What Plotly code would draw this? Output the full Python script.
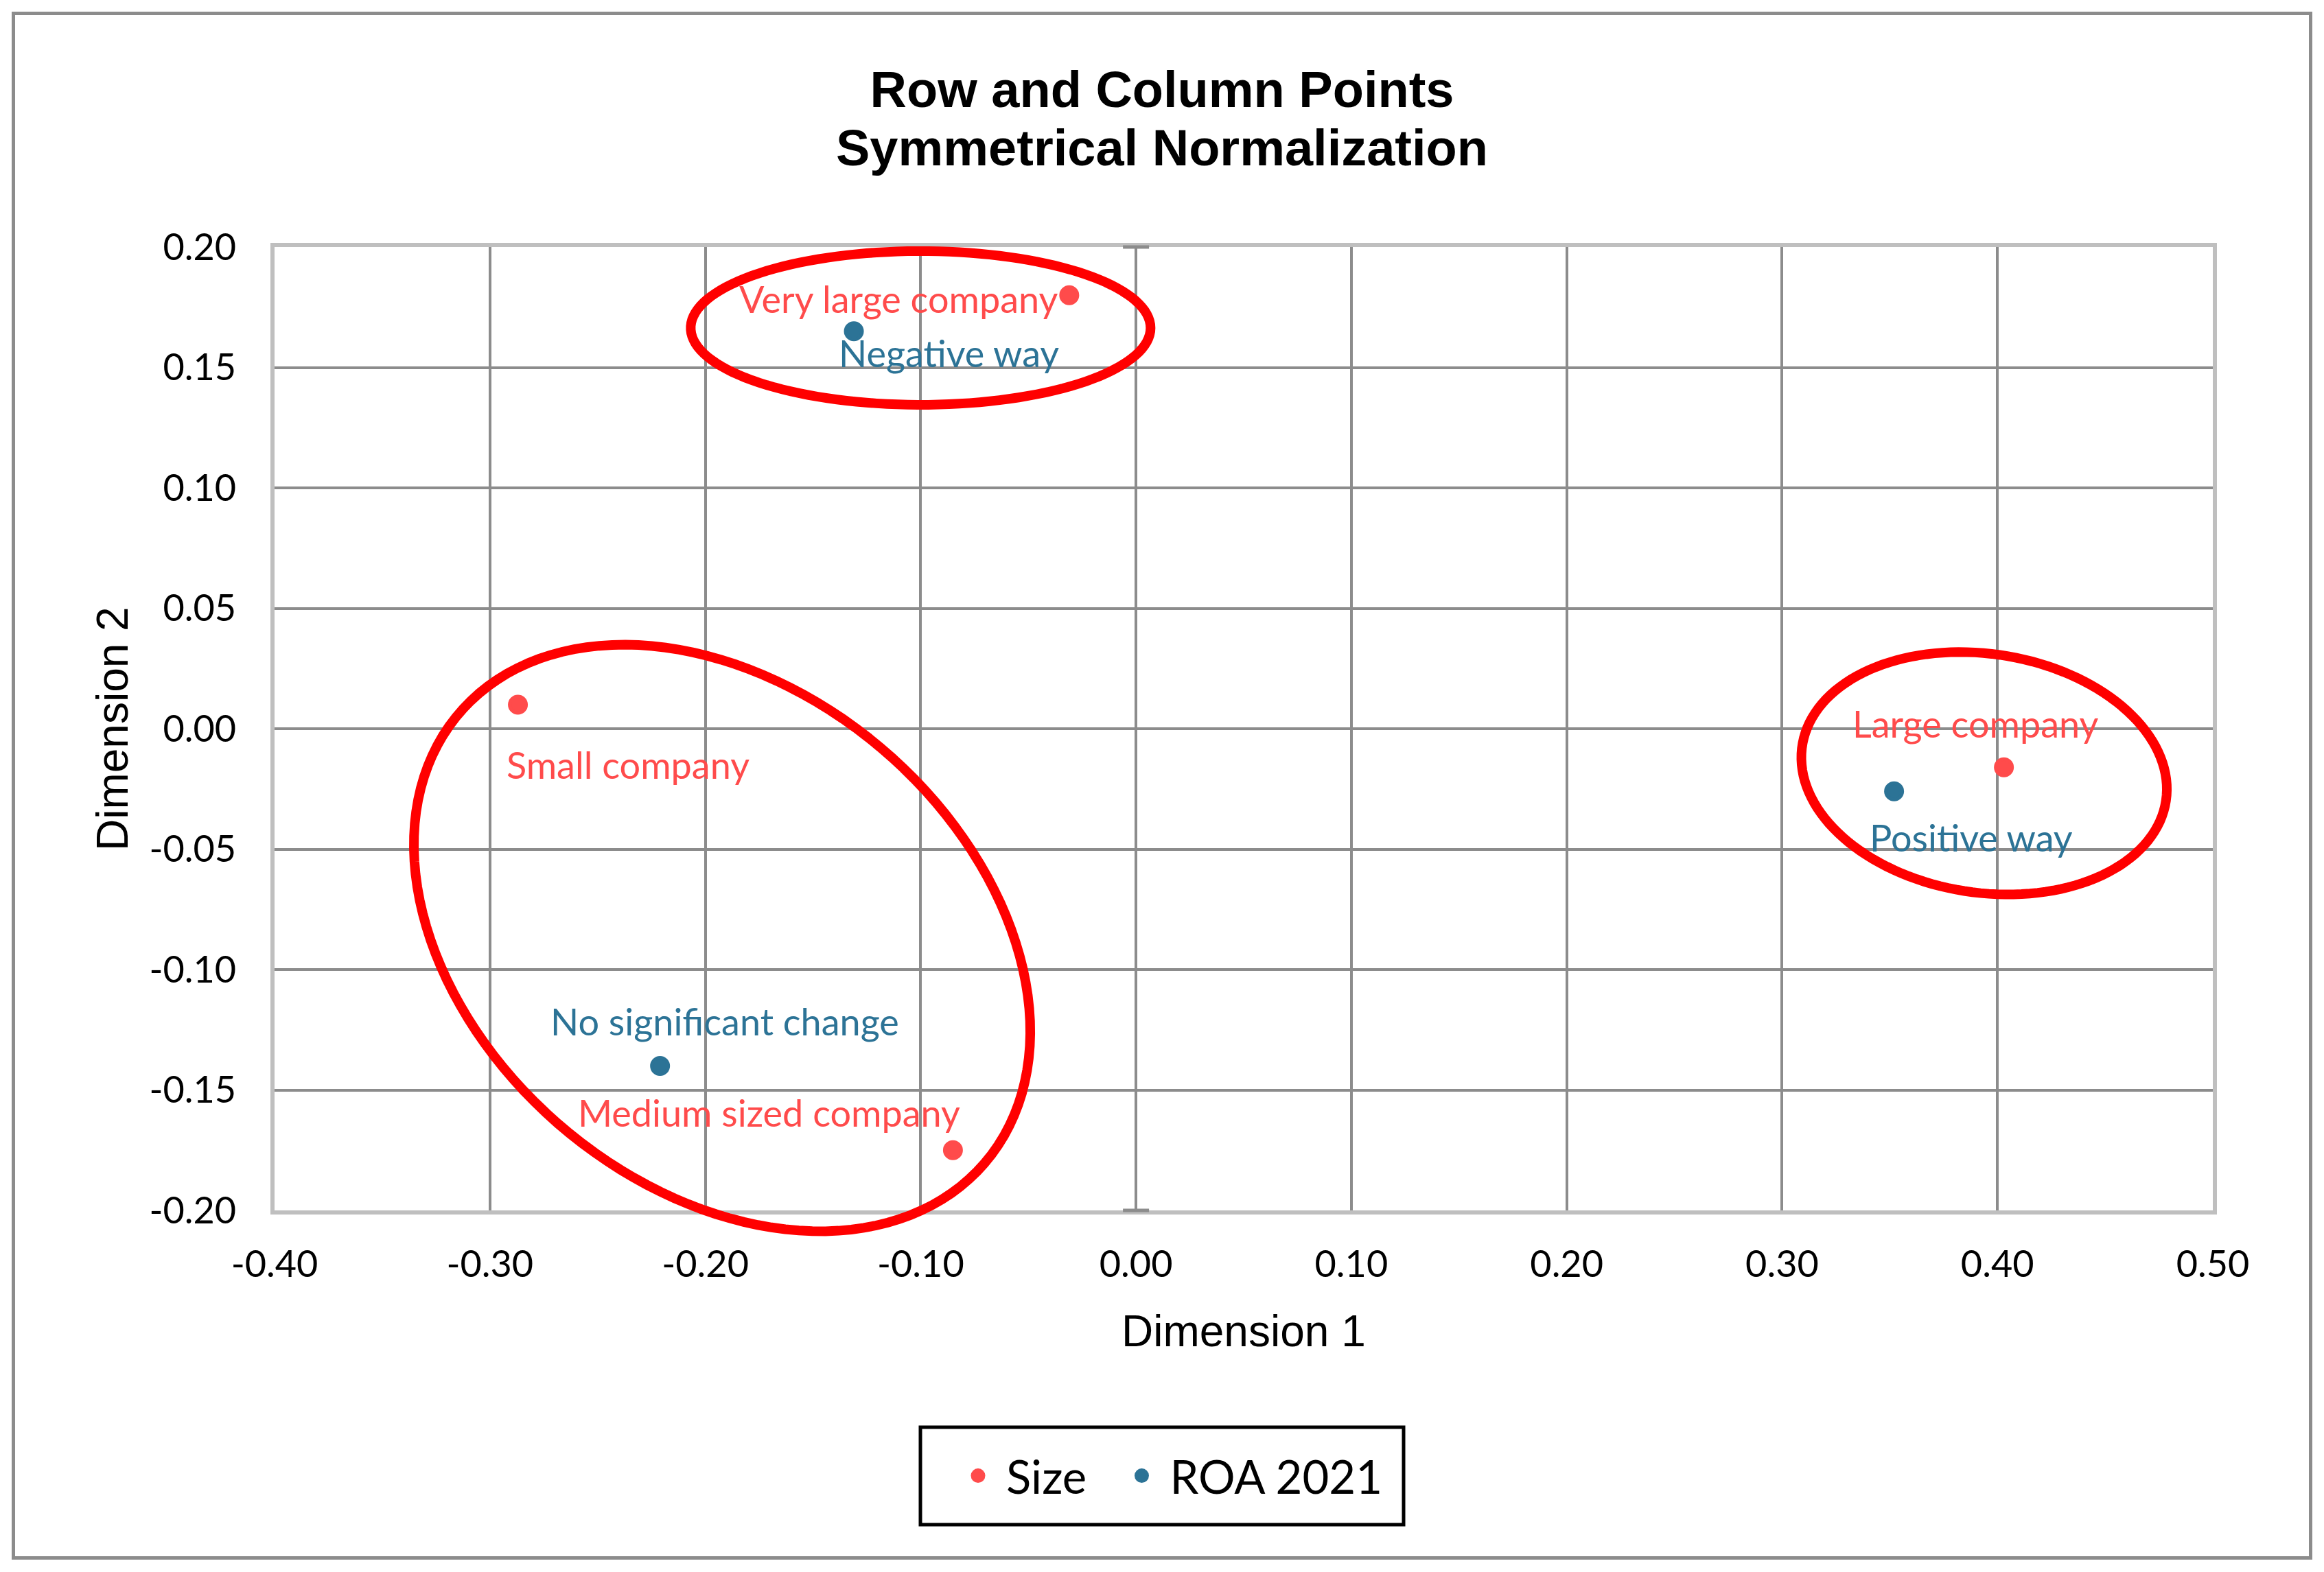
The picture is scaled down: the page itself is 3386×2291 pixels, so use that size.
"""Correspondence analysis biplot: row and column points (symmetrical normalization)."""

import numpy as np
import plotly.graph_objects as go

# --- data ---
size_labels = ["Very large company", "Small company", "Large company", "Medium sized company"]
size_dim1 = [-0.031, -0.287, 0.403, -0.085]
size_dim2 = [0.180, 0.010, -0.016, -0.175]

roa_labels = ["Negative way", "Positive way", "No significant change"]
roa_dim1 = [-0.131, 0.352, -0.221]
roa_dim2 = [0.165, -0.026, -0.140]

x_ticks = [-0.40, -0.30, -0.20, -0.10, 0.00, 0.10, 0.20, 0.30, 0.40, 0.50]
x_tick_text = ["-0.40", "-0.30", "-0.20", "-0.10", "0.00", "0.10", "0.20", "0.30", "0.40", "0.50"]
y_ticks = [-0.20, -0.15, -0.10, -0.05, 0.00, 0.05, 0.10, 0.15, 0.20]
y_tick_text = ["-0.20", "-0.15", "-0.10", "-0.05", "0.00", "0.05", "0.10", "0.15", "0.20"]

# group ellipses drawn by hand on the original: centre (data), semi-axes (px), tilt (deg)
groups = [
    {"cx": -0.100, "cy": 0.1664, "a": 335, "b": 112, "angle": 0.0},
    {"cx": 0.3938, "cy": -0.0185, "a": 268, "b": 174, "angle": 8.6},
    {"cx": -0.1922, "cy": -0.0869, "a": 504, "b": 361, "angle": 40.6},
]

RED = "#FF4B4B"
BLUE = "#2C7396"
GRID = "#8C8C8C"
LABEL_FONT = "Lato, Calibri, sans-serif"
ARIAL = "Arial, Liberation Sans, sans-serif"

# the page body adds an 8px margin, so the figure is drawn 8px in from the corner
BODY = 8
W, H = 3386 - BODY, 2291 - BODY
PLOT_LEFT, PLOT_RIGHT, PLOT_TOP, PLOT_BOTTOM = 400, 3224, 360, 1764  # page pixels
CHART_CENTER = 1693
MARGIN = dict(l=PLOT_LEFT - BODY, r=W - (PLOT_RIGHT - BODY),
              t=PLOT_TOP - BODY, b=H - (PLOT_BOTTOM - BODY))
X_RANGE = [-0.40, 0.50]
Y_RANGE = [-0.20, 0.20]

plot_w = PLOT_RIGHT - PLOT_LEFT
plot_h = PLOT_BOTTOM - PLOT_TOP


def px_x(v):
    """Page x pixel -> paper fraction."""
    return (v - PLOT_LEFT) / plot_w


def px_y(v):
    """Page y pixel -> paper fraction."""
    return (PLOT_BOTTOM - v) / plot_h


def ellipse_path(cx, cy, a, b, angle, n=140):
    """SVG path in paper coords (so it is not clipped) for an ellipse sized in pixels."""
    t = np.linspace(0, 2 * np.pi, n)
    th = np.radians(angle)
    dx = a * np.cos(t) * np.cos(th) - b * np.sin(t) * np.sin(th)
    dy = a * np.cos(t) * np.sin(th) + b * np.sin(t) * np.cos(th)  # screen y, down positive
    px0 = (cx - X_RANGE[0]) / (X_RANGE[1] - X_RANGE[0])
    py0 = (cy - Y_RANGE[0]) / (Y_RANGE[1] - Y_RANGE[0])
    xs = px0 + dx / plot_w
    ys = py0 - dy / plot_h
    pts = [f"{x:.5f},{y:.5f}" for x, y in zip(xs, ys)]
    return "M " + " L ".join(pts) + " Z"


# label placement (pixel offsets from the point) mimicking the Excel data labels
size_label_style = [
    dict(xanchor="right", xshift=-14, yshift=-5),
    dict(xanchor="left", xshift=-19, yshift=-88),
    dict(xanchor="center", xshift=-42, yshift=64),
    dict(xanchor="right", xshift=13, yshift=55),
]
roa_label_style = [
    dict(xanchor="left", xshift=-24, yshift=-32),
    dict(xanchor="left", xshift=-38, yshift=-67),
    dict(xanchor="left", xshift=-162, yshift=65),
]

fig = go.Figure()

fig.add_trace(go.Scatter(
    x=size_dim1, y=size_dim2, mode="markers", name="Size\u00a0\u00a0",
    marker=dict(color=RED, size=24, line=dict(color=RED, width=5)),
    text=size_labels, hoverinfo="text+x+y",
))
fig.add_trace(go.Scatter(
    x=roa_dim1, y=roa_dim2, mode="markers", name="ROA 2021",
    marker=dict(color=BLUE, size=24, line=dict(color=BLUE, width=5)),
    text=roa_labels, hoverinfo="text+x+y",
))

annotations = []
for labels, xs, ys, styles, color in [
    (size_labels, size_dim1, size_dim2, size_label_style, RED),
    (roa_labels, roa_dim1, roa_dim2, roa_label_style, BLUE),
]:
    for label, x, y, st in zip(labels, xs, ys, styles):
        annotations.append(dict(
            x=x, y=y, xref="x", yref="y", text=label, showarrow=False,
            yanchor="middle", font=dict(family=LABEL_FONT, size=54, color=color), **st,
        ))

# second title line (kept separate for tighter line spacing)
annotations.append(dict(
    x=px_x(CHART_CENTER), y=px_y(216), xref="paper", yref="paper",
    text="<b>Symmetrical Normalization</b>",
    showarrow=False, xanchor="center", yanchor="middle",
    font=dict(family=ARIAL, size=74, color="black"),
))

# axis titles
annotations.append(dict(
    x=0.5, y=px_y(1940), xref="paper", yref="paper",
    text="Dimension 1", showarrow=False, xanchor="center", yanchor="middle",
    font=dict(family=ARIAL, size=64, color="black"),
))
annotations.append(dict(
    x=px_x(164), y=0.5, xref="paper", yref="paper",
    text="Dimension 2", showarrow=False, textangle=-90, xanchor="center", yanchor="middle",
    font=dict(family=ARIAL, size=64, color="black"),
))

shapes = [
    dict(type="path", path=ellipse_path(**g), xref="paper", yref="paper",
         line=dict(color="#FF0000", width=14), layer="above")
    for g in groups
]

# cross tick marks where the vertical axis through zero meets the plot frame
x0_paper = (0 - X_RANGE[0]) / (X_RANGE[1] - X_RANGE[0])
half_tick_x = 19 / plot_w
for yy in (0, 1):
    shapes.append(dict(type="line", xref="paper", yref="paper",
                       x0=x0_paper - half_tick_x, x1=x0_paper + half_tick_x, y0=yy, y1=yy,
                       line=dict(color=GRID, width=5)))

# legend frame and outer chart frame
shapes.append(dict(type="rect", xref="paper", yref="paper",
                   x0=px_x(1341), x1=px_x(2045), y0=px_y(2222), y1=px_y(2080),
                   line=dict(color="black", width=5)))
shapes.append(dict(type="rect", xref="paper", yref="paper",
                   x0=px_x(19.5), x1=px_x(3366.5), y0=px_y(2270.5), y1=px_y(19.5),
                   line=dict(color=GRID, width=5)))

axis_common = dict(
    showgrid=True, gridcolor=GRID, gridwidth=4,
    zeroline=True, zerolinecolor=GRID, zerolinewidth=4,
    showline=True, linecolor="#BFBFBF", linewidth=6, mirror=True,
    ticks="",
    tickfont=dict(family=LABEL_FONT, size=54, color="black"),
)

fig.update_layout(
    width=W, height=H, margin=MARGIN,
    paper_bgcolor="white", plot_bgcolor="white",
    title=dict(
        text="Row and Column Points",
        x=px_x(CHART_CENTER), xref="paper", y=1 - (130 - BODY) / H, yref="container",
        xanchor="center", yanchor="middle",
        font=dict(family=ARIAL, size=74, color="black", weight="bold"),
    ),
    xaxis=dict(range=X_RANGE, tickvals=x_ticks, ticktext=x_tick_text,
               ticklabelstandoff=26, **axis_common),
    yaxis=dict(range=Y_RANGE, tickvals=y_ticks, ticktext=y_tick_text,
               ticklabelstandoff=39, **axis_common),
    legend=dict(
        orientation="h", x=px_x(1384), y=px_y(2151), xanchor="left", yanchor="middle",
        font=dict(family=LABEL_FONT, size=67, color="black"),
        itemwidth=72,
        bgcolor="rgba(0,0,0,0)", borderwidth=0,
    ),
    annotations=annotations,
    shapes=shapes,
    showlegend=True,
)

fig.write_html("out.html")
